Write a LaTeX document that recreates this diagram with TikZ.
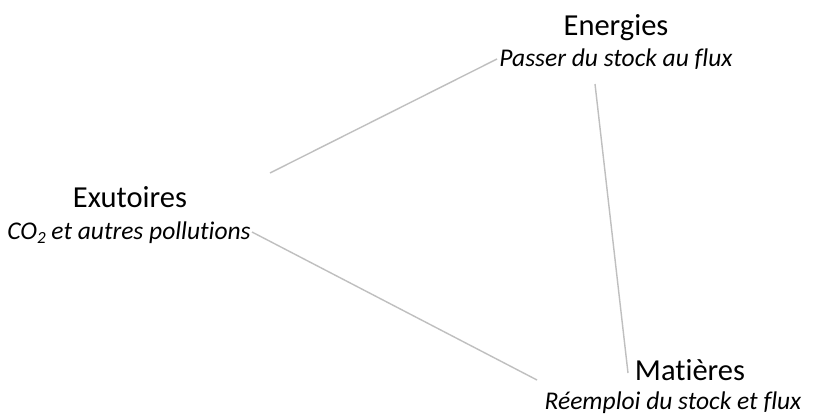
\documentclass[tikz,border=0pt]{standalone}
\usepackage{fontspec}
\setmainfont[Ligatures=NoCommon]{Carlito}
\begin{document}
\begin{tikzpicture}[x=1pt,y=-1pt,
  title/.style={anchor=base,inner sep=0pt,font=\fontsize{30.5}{36}\selectfont},
  sub/.style={anchor=base,inner sep=0pt,font=\fontsize{25.5}{30}\selectfont\itshape},
  link/.style={draw=black!25,line width=1.4pt}]
\useasboundingbox[fill=white] (0,0) rectangle (817,415);
\node[title] (en) at (616,35) {Energies};
\node[sub] (ens) at (616,66) {Passer du stock au flux};
\node[title] (ex) at (130,207) {Exutoires};
\node[sub] (exs) at (129,239) {CO\raisebox{-0.35ex}{\fontsize{17}{17}\selectfont 2} et autres pollutions};
\node[title] (ma) at (690,380) {Matières};
\node[sub] (mas) at (673,409) {Réemploi du stock et flux};
\coordinate (a1) at (270,173);
\coordinate (a2) at (497,59);
\coordinate (b1) at (595,84);
\coordinate (b2) at (628,373);
\coordinate (c1) at (252,232);
\coordinate (c2) at (537,380);
\draw[link] (a1) -- (a2);
\draw[link] (b1) -- (b2);
\draw[link] (c1) -- (c2);
\end{tikzpicture}
\end{document}
